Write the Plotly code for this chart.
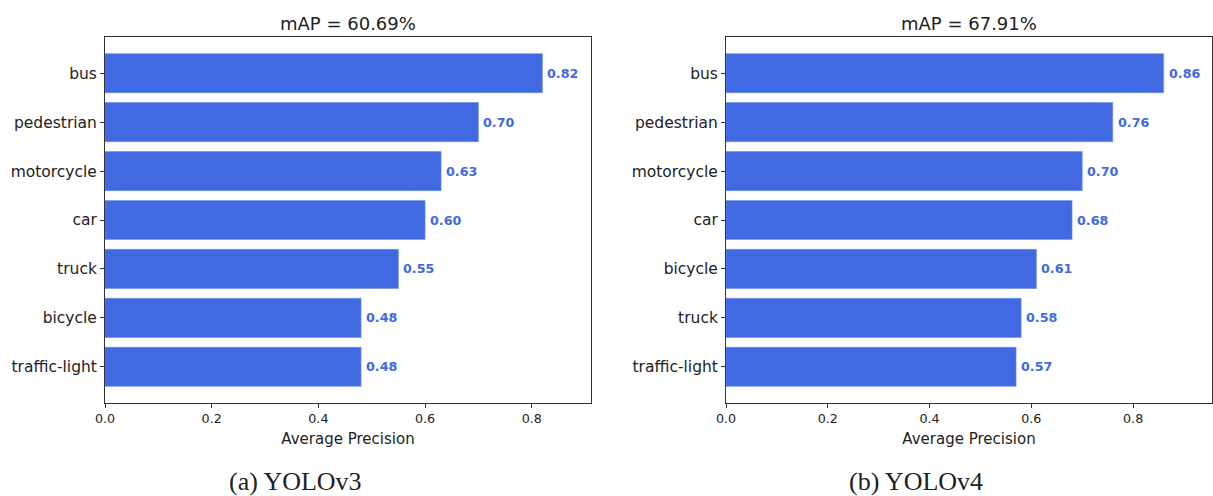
import plotly.graph_objects as go

# Per-class average precision for the two detectors
classes_v3 = ["bus", "pedestrian", "motorcycle", "car", "truck", "bicycle", "traffic-light"]
ap_v3 = [0.82, 0.70, 0.63, 0.60, 0.55, 0.48, 0.48]
map_v3 = 60.69

classes_v4 = ["bus", "pedestrian", "motorcycle", "car", "bicycle", "truck", "traffic-light"]
ap_v4 = [0.86, 0.76, 0.70, 0.68, 0.61, 0.58, 0.57]
map_v4 = 67.91

x_ticks = [0.0, 0.2, 0.4, 0.6, 0.8]
captions = ["(a) YOLOv3", "(b) YOLOv4"]

W, H = 1213, 496
BAR = "#4169E1"
FONT = "DejaVu Sans"
INK = "#222222"

fig = go.Figure()

# (categories, values, mAP, x axis, y axis, x domain, x max, caption centre px)
panels = [
    (classes_v3, ap_v3, map_v3, "x", "y", [105 / W, 591 / W], 0.911, 295),
    (classes_v4, ap_v4, map_v4, "x2", "y2", [726 / W, 1212 / W], 0.955, 916),
]

annotations = []
layout_axes = {}
for i, (cats, vals, m, xa, ya, dom, xmax, cap_x) in enumerate(panels):
    fig.add_trace(go.Bar(
        x=vals, y=cats, orientation="h",
        marker=dict(color=BAR, line=dict(color="#6f8ff0", width=0.6)),
        xaxis=xa, yaxis=ya, showlegend=False, hoverinfo="x+y",
    ))
    for c, v in zip(cats, vals):
        annotations.append(dict(
            x=v, y=c, xref=xa, yref=ya, text=f"<b>{v:.2f}</b>",
            showarrow=False, xanchor="left", yanchor="middle", xshift=3,
            font=dict(family=FONT, size=12.7, color=BAR),
        ))
    # panel title
    annotations.append(dict(
        x=(dom[0] + dom[1]) / 2, y=1 - 23 / H, xref="paper", yref="paper",
        text=f"mAP = {m:.2f}%", showarrow=False, xanchor="center", yanchor="middle",
        font=dict(family=FONT, size=18, color=INK),
    ))
    # caption below the panel
    annotations.append(dict(
        x=cap_x / W, y=1 - 481 / H, xref="paper", yref="paper",
        text=captions[i], showarrow=False, xanchor="center", yanchor="middle",
        font=dict(family="Liberation Serif", size=26, color=INK),
    ))
    suffix = "" if i == 0 else "2"
    layout_axes["xaxis" + suffix] = dict(
        domain=dom, range=[0, xmax], anchor=ya, automargin=False,
        tickvals=x_ticks, ticktext=[f"{t:.1f}" for t in x_ticks],
        ticks="outside", ticklen=4, tickcolor="#333", tickwidth=1,
        showline=True, mirror=True, linecolor="#333", linewidth=1,
        showgrid=False, zeroline=False,
        tickfont=dict(family=FONT, size=12.7, color=INK),
        title=dict(text="Average Precision", standoff=8,
                   font=dict(family=FONT, size=15, color=INK)),
    )
    layout_axes["yaxis" + suffix] = dict(
        domain=[1 - 403 / H, 1 - 37 / H], anchor=xa, automargin=False,
        type="category", categoryorder="array", categoryarray=cats,
        range=[6.74, -0.74],
        ticks="outside", ticklen=4, tickcolor="#333", tickwidth=1,
        showline=True, mirror=True, linecolor="#333", linewidth=1,
        showgrid=False, zeroline=False,
        tickfont=dict(family=FONT, size=15.5, color=INK),
    )

fig.update_layout(
    width=W, height=H,
    margin=dict(l=0, r=0, t=0, b=0, autoexpand=False),
    paper_bgcolor="white", plot_bgcolor="white",
    bargap=0.2,
    annotations=annotations,
    **layout_axes,
)

fig.write_html("out.html")
